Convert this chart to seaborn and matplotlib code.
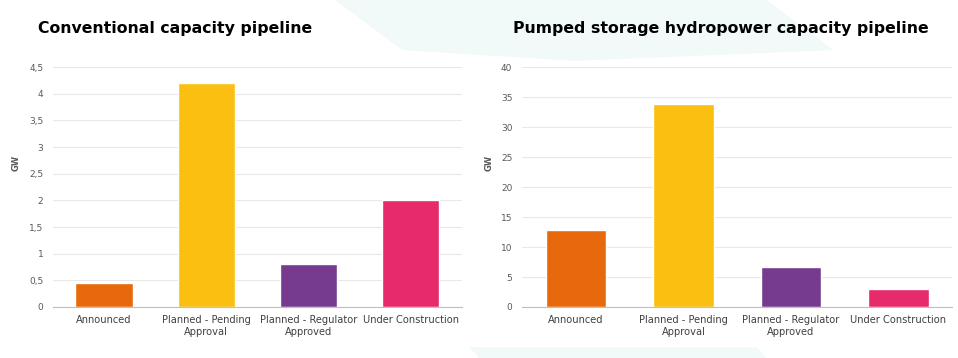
import matplotlib
matplotlib.use("Agg")
import matplotlib.pyplot as plt
import matplotlib.ticker as mticker
from matplotlib.patches import Polygon
import seaborn as sns
import pandas as pd

categories = ["Announced", "Planned - Pending\nApproval", "Planned - Regulator\nApproved", "Under Construction"]
conventional_gw = [0.45, 4.2, 0.8, 2.0]
pumped_gw = [12.8, 33.8, 6.7, 3.0]
colors = ["#E8690B", "#FBBF12", "#763B8E", "#E72A6B"]
titles = ["Conventional capacity pipeline", "Pumped storage hydropower capacity pipeline"]
left_ticks = [0, 0.5, 1, 1.5, 2, 2.5, 3, 3.5, 4, 4.5]
right_ticks = [0, 5, 10, 15, 20, 25, 30, 35, 40]

sns.set_theme(style="white")
plt.rcParams['font.family'] = ['DejaVu Sans']

fig = plt.figure(figsize=(9.58, 3.58), dpi=100)
fig.patch.set_facecolor("white")

# faint decorative background shapes
deco = "#F1F9F9"
fig.patches.append(Polygon([[0.35, 1.0], [0.80, 1.0], [0.87, 0.86], [0.60, 0.83], [0.42, 0.86]],
                           closed=True, transform=fig.transFigure, facecolor=deco, edgecolor="none", zorder=0))
fig.patches.append(Polygon([[0.49, 0.03], [0.79, 0.03], [0.80, 0.0], [0.50, 0.0]],
                           closed=True, transform=fig.transFigure, facecolor=deco, edgecolor="none", zorder=0))

ax1 = fig.add_axes([0.0553, 0.1425, 0.4267, 0.670])
ax2 = fig.add_axes([0.545, 0.1425, 0.449, 0.670])

def fmt(v, pos):
    return ("%g" % v).replace(".", ",")

for ax, vals, ticks, title, tx, lx in [(ax1, conventional_gw, left_ticks, titles[0], 0.040, -0.08),
                                        (ax2, pumped_gw, right_ticks, titles[1], 0.535, -0.067)]:
    df = pd.DataFrame({"cat": categories, "val": vals})
    sns.barplot(data=df, x="cat", y="val", hue="cat", palette=colors, legend=False,
                width=0.56, ax=ax, saturation=1)
    ax.set_facecolor("none")
    ax.set_ylim(0, ticks[-1])
    ax.set_yticks(ticks)
    ax.yaxis.set_major_formatter(mticker.FuncFormatter(fmt))
    ax.grid(axis="y", color="#E8E8E8", linewidth=0.8)
    ax.set_axisbelow(True)
    for s in ["top", "right", "left"]:
        ax.spines[s].set_visible(False)
    ax.spines["bottom"].set_color("#BFBFBF")
    ax.spines["bottom"].set_linewidth(0.8)
    ax.tick_params(axis="y", labelsize=6.5, colors="#595959", length=0, pad=7)
    ax.tick_params(axis="x", labelsize=7.1, colors="#404040", length=0, pad=6)
    ax.set_xlabel("")
    ax.set_ylabel("GW", fontsize=6, fontweight="bold", color="#595959")
    ax.yaxis.set_label_coords(lx, 0.6)
    fig.text(tx, 0.92, title, fontsize=11.3, fontweight="bold", color="black", va="center", ha="left")

fig.savefig("out.png", dpi=100, facecolor="white")
